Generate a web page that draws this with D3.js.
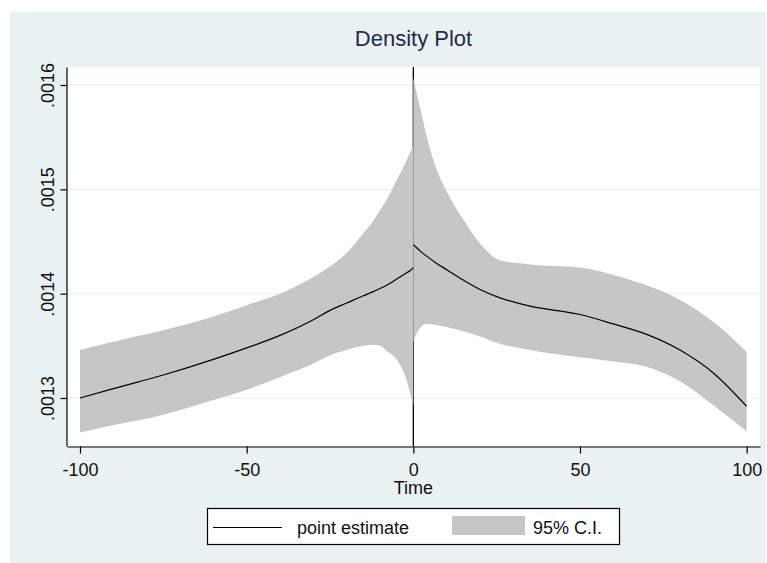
<!DOCTYPE html>
<html>
<head>
<meta charset="utf-8">
<script src="https://cdn.jsdelivr.net/npm/d3@7"></script>
<style>
  html, body { margin: 0; padding: 0; background: #ffffff; }
  svg { display: block; font-family: "Liberation Sans", Arial, sans-serif; }
</style>
</head>
<body>
<svg id="chart" width="767" height="563"></svg>
<script>
// ---- data ----
const titleText = "Density Plot";
const xAxisTitle = "Time";
const xTicks = [-100, -50, 0, 50, 100];
const xTickLabels = ["-100", "-50", "0", "50", "100"];
const yTicks = [0.0013, 0.0014, 0.0015, 0.0016];
const yTickLabels = [".0013", ".0014", ".0015", ".0016"];
const legendLabels = ["point estimate", "95% C.I."];
const cutoff = 0;

// left of cutoff
const leftX   = [-100, -90, -75, -60, -50, -40, -30, -25, -20, -15, -12, -10, -8, -5, -3.5, -2, -1, 0];
const leftEst = [0.001300, 0.001309, 0.001322, 0.001337, 0.001348, 0.001360, 0.001375, 0.001384, 0.001391, 0.001398, 0.001402, 0.001405, 0.001408, 0.001414, 0.001417, 0.001420, 0.001422, 0.001425];
const leftHi  = [0.001346, 0.001354, 0.001365, 0.001378, 0.001389, 0.001400, 0.001416, 0.001426, 0.001439, 0.001458, 0.001470, 0.001480, 0.001490, 0.001509, 0.001518, 0.001528, 0.001535, 0.001541];
const leftLo  = [0.001267, 0.001274, 0.001284, 0.001298, 0.001308, 0.001320, 0.001333, 0.001341, 0.001346, 0.001350, 0.001351, 0.001350, 0.001345, 0.001337, 0.001329, 0.001317, 0.001305, 0.001293];

// right of cutoff
const rightX   = [0, 1, 2, 4, 7, 10, 15, 20, 26, 35, 50, 60, 70, 80, 90, 100];
const rightEst = [0.001447, 0.001444, 0.001441, 0.001436, 0.001429, 0.001423, 0.001413, 0.001404, 0.001396, 0.001388, 0.001380, 0.001371, 0.001361, 0.001346, 0.001324, 0.001292];
const rightHi  = [0.001607, 0.001592, 0.001579, 0.001551, 0.001519, 0.001498, 0.001471, 0.001448, 0.001432, 0.001428, 0.001425, 0.001418, 0.001408, 0.001394, 0.001373, 0.001344];
const rightLo  = [0.001354, 0.001362, 0.001367, 0.001371, 0.001370, 0.001368, 0.001364, 0.001359, 0.001352, 0.001346, 0.001339, 0.001335, 0.001330, 0.001316, 0.001293, 0.001268];

// ---- layout ----
const svg = d3.select("#chart");
const plot = { left: 67, right: 760, top: 67, bottom: 446 };

const x = d3.scaleLinear().domain([-103.9, 104.0]).range([plot.left, plot.right]);
const y = d3.scaleLinear().domain([0.00125399, 0.00161726]).range([plot.bottom, plot.top]);

// outer graph region
svg.append("rect").attr("x", 10).attr("y", 12).attr("width", 756).attr("height", 551)
  .attr("fill", "#eaf1f3");
// plot region
svg.append("rect").attr("x", plot.left).attr("y", plot.top)
  .attr("width", plot.right - plot.left).attr("height", plot.bottom - plot.top)
  .attr("fill", "#ffffff");

// gridlines
svg.append("g").selectAll("line").data(yTicks).join("line")
  .attr("x1", plot.left).attr("x2", plot.right)
  .attr("y1", d => y(d)).attr("y2", d => y(d))
  .attr("stroke", "#e7ecee").attr("stroke-width", 1);

// vertical cutoff line (behind bands)
svg.append("line")
  .attr("x1", x(cutoff)).attr("x2", x(cutoff))
  .attr("y1", plot.top).attr("y2", plot.bottom)
  .attr("stroke", "#000").attr("stroke-width", 1.3);

const bandColor = "#c6c6c6";
const area = d3.area().x(d => x(d.x)).y0(d => y(d.lo)).y1(d => y(d.hi)).curve(d3.curveMonotoneX);
const line = d3.line().x(d => x(d.x)).y(d => y(d.v)).curve(d3.curveMonotoneX);

const leftBand = leftX.map((v, i) => ({ x: v, lo: leftLo[i], hi: leftHi[i] }));
const rightBand = rightX.map((v, i) => ({ x: v, lo: rightLo[i], hi: rightHi[i] }));
const leftLine = leftX.map((v, i) => ({ x: v, v: leftEst[i] }));
const rightLine = rightX.map((v, i) => ({ x: v, v: rightEst[i] }));

svg.append("path").datum(leftBand).attr("d", area).attr("fill", bandColor);
svg.append("path").datum(rightBand).attr("d", area).attr("fill", bandColor);
svg.append("path").datum(leftLine).attr("d", line).attr("fill", "none").attr("stroke", "#000").attr("stroke-width", 1.2);
svg.append("path").datum(rightLine).attr("d", line).attr("fill", "none").attr("stroke", "#000").attr("stroke-width", 1.2);

// y axis
const yAxis = svg.append("g").attr("transform", `translate(${plot.left - 0.5},0)`)
  .call(d3.axisLeft(y).tickValues(yTicks).tickSize(6).tickSizeOuter(0)
    .tickFormat((d, i) => yTickLabels[i]));
yAxis.selectAll("text")
  .attr("x", 0).attr("dy", 0).attr("y", 0)
  .attr("text-anchor", "middle")
  .attr("transform", "translate(-13,0) rotate(-90)")
  .attr("fill", "#111").style("font-size", "18px");

// x axis
const xAxis = svg.append("g").attr("transform", `translate(0,${plot.bottom + 0.5})`)
  .call(d3.axisBottom(x).tickValues(xTicks).tickSize(7).tickSizeOuter(0)
    .tickFormat((d, i) => xTickLabels[i]));
xAxis.selectAll("text").attr("y", 29).attr("dy", 0)
  .attr("fill", "#111").style("font-size", "18px");

[yAxis, xAxis].forEach(g => {
  g.selectAll("path.domain").attr("stroke", "#000").attr("stroke-width", 1.2);
  g.selectAll(".tick line").attr("stroke", "#000").attr("stroke-width", 1.2);
  g.attr("font-family", null).attr("font-size", null);
});

// axis title
svg.append("text").attr("x", x(0)).attr("y", 494).attr("text-anchor", "middle")
  .attr("fill", "#111").style("font-size", "18px").text(xAxisTitle);

// title
svg.append("text").attr("x", (plot.left + plot.right) / 2).attr("y", 46).attr("text-anchor", "middle")
  .attr("fill", "#242a48").style("font-size", "22px").text(titleText);

// legend
const lg = svg.append("g");
lg.append("rect").attr("x", 207.5).attr("y", 508.5).attr("width", 412).attr("height", 36)
  .attr("fill", "#fff").attr("stroke", "#000").attr("stroke-width", 1.2);
lg.append("line").attr("x1", 213).attr("x2", 282).attr("y1", 527.5).attr("y2", 527.5)
  .attr("stroke", "#000").attr("stroke-width", 1.2);
lg.append("text").attr("x", 297).attr("y", 534).attr("fill", "#111").style("font-size", "18px").text(legendLabels[0]);
lg.append("rect").attr("x", 452).attr("y", 516).attr("width", 73).attr("height", 19).attr("fill", bandColor);
lg.append("text").attr("x", 533).attr("y", 534).attr("fill", "#111").style("font-size", "18px").text(legendLabels[1]);
</script>
</body>
</html>
